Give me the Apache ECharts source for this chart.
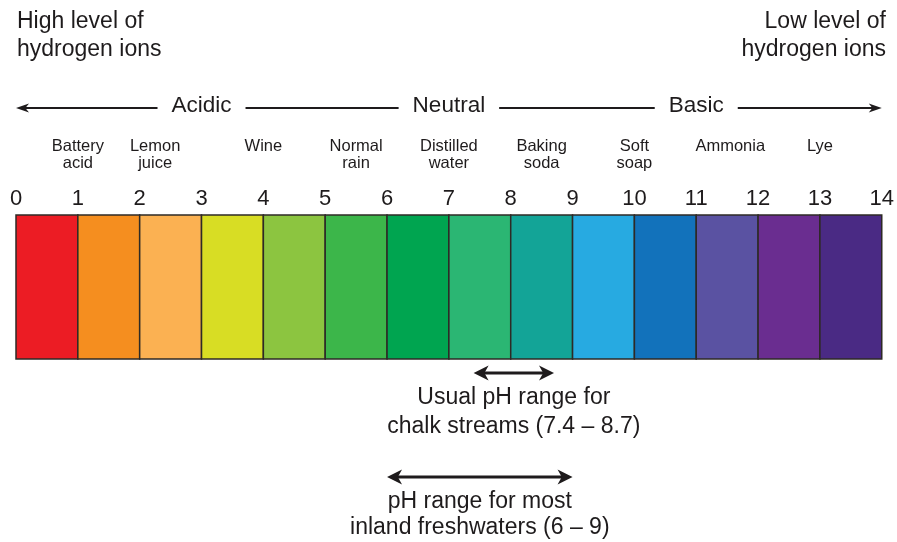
<!DOCTYPE html>
<html>
<head>
<meta charset="utf-8">
<title>pH scale</title>
<script src="https://cdn.jsdelivr.net/npm/echarts@6/dist/echarts.min.js"></script>
<style>
  html, body { margin: 0; padding: 0; background: #fff; }
  #ph-chart { width: 897px; height: 542px; }
</style>
</head>
<body>
<div id="ph-chart"></div>
<script>
// pH scale data
const phTicks = [0, 1, 2, 3, 4, 5, 6, 7, 8, 9, 10, 11, 12, 13, 14]
const cellColors = ['#ec1c24', '#f58e1f', '#fbb152', '#d8dd24', '#8cc540', '#3cb64a', '#00a550',
  '#2bb673', '#13a497', '#27aae1', '#1272bb', '#5a52a2', '#6a2d90', '#4a2a84']

const substanceNames = ['Battery\nacid', 'Lemon\njuice', 'Wine', 'Normal\nrain', 'Distilled\nwater',
  'Baking\nsoda', 'Soft\nsoap', 'Ammonia', 'Lye']
const substancePh = [1, 2.25, 4, 5.5, 7, 8.5, 10, 11.55, 13]

const scaleNames = ['Acidic', 'Neutral', 'Basic']
const scalePh = [3, 7, 11]

const rangeNames = ['Usual pH range for\nchalk streams (7.4 – 8.7)', 'pH range for most\ninland freshwaters (6 – 9)']
const rangeLow = [7.4, 6]
const rangeHigh = [8.7, 9]

const FONT = "'Liberation Sans', Arial, sans-serif"
const INK = '#1e1b1c'

var myChart = echarts.init(document.getElementById('ph-chart'))

// arrow head polygon, tip at (x,y), pointing dir (+1 right / -1 left)
function arrowHead (x, y, dir, len, wid) {
  return [
    [x, y],
    [x - dir * len, y - wid / 2],
    [x - dir * len * 0.72, y],
    [x - dir * len, y + wid / 2]
  ]
}

function doubleArrow (api, lo, hi, yv, lw, len, wid) {
  let a = api.coord([lo, yv])
  let b = api.coord([hi, yv])
  return {
    type: 'group',
    children: [
      {type: 'line', shape: {x1: a[0] + len * 0.6, y1: a[1], x2: b[0] - len * 0.6, y2: b[1]},
        style: {stroke: INK, lineWidth: lw}},
      {type: 'polygon', shape: {points: arrowHead(a[0], a[1], -1, len, wid)}, style: {fill: INK}},
      {type: 'polygon', shape: {points: arrowHead(b[0], b[1], 1, len, wid)}, style: {fill: INK}}
    ]
  }
}

var option = {
  animation: false,
  title: {
    text: 'High level of\nhydrogen ions',
    left: 17,
    top: 8,
    padding: 0,
    textStyle: {fontFamily: FONT, fontSize: 23, fontWeight: 'normal', color: INK, lineHeight: 28}
  },
  graphic: [{
    type: 'text',
    x: 886,
    y: 8,
    style: {
      text: 'Low level of\nhydrogen ions', fontFamily: FONT, fontSize: 23, fill: INK,
      lineHeight: 28, align: 'right', verticalAlign: 'top'
    }
  }],
  grid: {
    left: 16,
    right: 12,
    top: 215,
    bottom: 183
  },
  xAxis: {
    type: 'value',
    position: 'top',
    min: 0,
    max: 14,
    interval: 1,
    axisLine: {show: false},
    axisTick: {show: false},
    splitLine: {show: false},
    axisLabel: {fontFamily: FONT, fontSize: 22, color: INK, margin: 5}
  },
  yAxis: {
    type: 'value',
    min: 0,
    max: 1,
    show: false
  },
  series: [
    // coloured cells of the scale
    {
      type: 'custom',
      data: cellColors.map((c, i) => [phTicks[i], phTicks[i + 1]]),
      renderItem: function (params, api) {
        let p0 = api.coord([api.value(0), 1])
        let p1 = api.coord([api.value(1), 0])
        return {
          type: 'rect',
          shape: {x: p0[0], y: p0[1], width: p1[0] - p0[0], height: p1[1] - p0[1]},
          style: {fill: cellColors[params.dataIndex], stroke: '#2e2a26', lineWidth: 1.5}
        }
      }
    },
    // acidic / neutral / basic arrow
    {
      type: 'custom',
      data: [[phTicks[0], phTicks[phTicks.length - 1]]],
      renderItem: function (params, api) {
        let a = api.coord([api.value(0), 1.743])
        let b = api.coord([api.value(1), 1.743])
        let children = [
          {type: 'line', shape: {x1: a[0] + 6, y1: a[1], x2: b[0] - 6, y2: b[1]},
            style: {stroke: INK, lineWidth: 2}},
          {type: 'polygon', shape: {points: arrowHead(a[0], a[1], -1, 13, 9)}, style: {fill: INK}},
          {type: 'polygon', shape: {points: arrowHead(b[0], b[1], 1, 13, 9)}, style: {fill: INK}}
        ]
        scaleNames.forEach((name, i) => {
          let p = api.coord([scalePh[i], 1.755])
          children.push({
            type: 'text',
            x: p[0],
            y: p[1],
            style: {
              text: name, fontFamily: FONT, fontSize: 22.5, fill: INK,
              align: 'center', verticalAlign: 'middle',
              backgroundColor: '#fff', padding: [2, 14]
            }
          })
        })
        return {type: 'group', children: children}
      }
    },
    // substance labels
    {
      type: 'custom',
      data: substancePh.map((ph, i) => [ph, 1.535]),
      renderItem: function (params, api) {
        let p = api.coord([api.value(0), api.value(1)])
        return {
          type: 'text',
          x: p[0],
          y: p[1],
          style: {
            text: substanceNames[params.dataIndex], fontFamily: FONT, fontSize: 16.5, fill: INK,
            align: 'center', verticalAlign: 'top', lineHeight: 17
          }
        }
      }
    },
    // range arrows below the scale
    {
      type: 'custom',
      data: [[rangeLow[0], rangeHigh[0], -0.097, -0.170, 29], [rangeLow[1], rangeHigh[1], -0.819, -0.899, 26]],
      renderItem: function (params, api) {
        let lo = api.value(0)
        let hi = api.value(1)
        let arrow = doubleArrow(api, lo, hi, api.value(2), 3, 15, 15)
        let t = api.coord([(lo + hi) / 2, api.value(3)])
        arrow.children.push({
          type: 'text',
          x: t[0],
          y: t[1],
          style: {
            text: rangeNames[params.dataIndex], fontFamily: FONT, fontSize: 23, fill: INK,
            align: 'center', verticalAlign: 'top', lineHeight: api.value(4)
          }
        })
        return arrow
      }
    }
  ]
}

myChart.setOption(option)
</script>
</body>
</html>
